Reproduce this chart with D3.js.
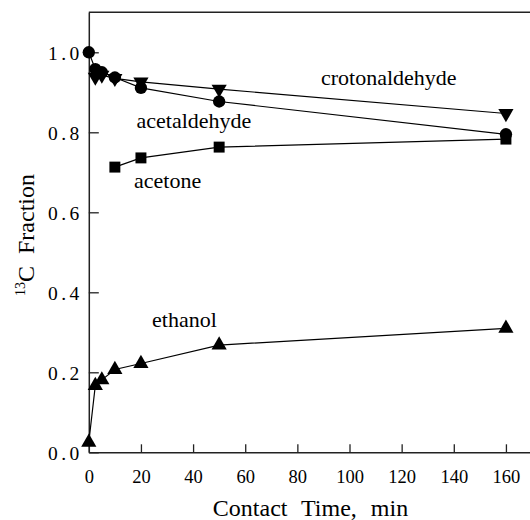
<!DOCTYPE html>
<html>
<head>
<meta charset="utf-8">
<script src="https://cdn.jsdelivr.net/npm/d3@7"></script>
<style>
  html, body { margin: 0; padding: 0; background: #fff; }
  svg { display: block; }
</style>
</head>
<body>
<svg id="chart" width="530" height="520"></svg>
<script>
// Contact time (min) and 13C fraction for each product
const ethanolTime = [0, 2.5, 5, 10, 20, 50, 160];
const ethanolFrac = [0.025, 0.167, 0.181, 0.207, 0.222, 0.268, 0.310];

const acetaldehydeTime = [0, 2.5, 5, 10, 20, 50, 160];
const acetaldehydeFrac = [1.0, 0.958, 0.950, 0.937, 0.911, 0.877, 0.795];

const crotonTime = [2.5, 5, 10, 20, 50, 160];
const crotonFrac = [0.938, 0.943, 0.935, 0.926, 0.908, 0.847];

const acetoneTime = [10, 20, 50, 160];
const acetoneFrac = [0.713, 0.736, 0.763, 0.783];

const xTicks = [0, 20, 40, 60, 80, 100, 120, 140, 160];
const yTicks = [0.0, 0.2, 0.4, 0.6, 0.8, 1.0];

const SERIF = "'Liberation Serif', 'Times New Roman', serif";

const svg = d3.select("#chart");

const x = d3.scaleLinear().domain([0, 170]).range([88.8, 532]);
const y = d3.scaleLinear().domain([0, 1.1]).range([452.3, 12.3]);

// frame: top edge and left/bottom axes
svg.append("line")
  .attr("x1", x(0)).attr("x2", x(170)).attr("y1", y(1.1)).attr("y2", y(1.1))
  .attr("stroke", "#222").attr("stroke-width", 1.5);

const xAxis = d3.axisBottom(x).tickValues(xTicks).tickSizeInner(-8).tickSizeOuter(0).tickPadding(18)
  .tickFormat(d3.format("d"));
const gx = svg.append("g").attr("transform", `translate(0,${y(0)})`).call(xAxis);

const yAxis = d3.axisLeft(y).tickValues(yTicks).tickSizeInner(-10).tickSizeOuter(0).tickPadding(6)
  .tickFormat(d3.format(".1f"));
const gy = svg.append("g").attr("transform", `translate(${x(0)},0)`).call(yAxis);

[gx, gy].forEach(g => {
  g.select(".domain").attr("stroke", "#222").attr("stroke-width", 1.5);
  g.selectAll(".tick line").attr("stroke", "#222").attr("stroke-width", 1.3);
  g.selectAll(".tick text")
    .style("font-family", SERIF).style("font-size", "18.5px").attr("fill", "#000");
});
gy.selectAll(".tick text").attr("dy", "0.35em")
  .style("font-size", "19.5px").style("letter-spacing", "3.5px");

// series lines and markers
const line = d3.line().x(d => x(d[0])).y(d => y(d[1]));
const zip = (a, b) => a.map((v, i) => [v, b[i]]);

const series = [
  { pts: zip(ethanolTime, ethanolFrac), sym: d3.symbolTriangle, size: 100, rot: 0 },
  { pts: zip(crotonTime, crotonFrac), sym: d3.symbolTriangle, size: 100, rot: 180 },
  { pts: zip(acetoneTime, acetoneFrac), sym: d3.symbolSquare, size: 120, rot: 0 },
  { pts: zip(acetaldehydeTime, acetaldehydeFrac), sym: d3.symbolCircle, size: 120, rot: 0 }
];

series.forEach(s => {
  svg.append("path").datum(s.pts).attr("d", line)
    .attr("fill", "none").attr("stroke", "#000").attr("stroke-width", 1.2);
});
series.forEach(s => {
  svg.append("g").selectAll("path").data(s.pts).join("path")
    .attr("d", d3.symbol().type(s.sym).size(s.size))
    .attr("transform", d => `translate(${x(d[0])},${y(d[1])}) rotate(${s.rot})`)
    .attr("fill", "#000");
});

// series labels
const labels = [
  { text: "crotonaldehyde", lx: 321, ly: 85 },
  { text: "acetaldehyde", lx: 136.5, ly: 128 },
  { text: "acetone", lx: 134, ly: 188 },
  { text: "ethanol", lx: 152, ly: 327 }
];
svg.append("g").selectAll("text").data(labels).join("text")
  .attr("x", d => d.lx).attr("y", d => d.ly)
  .style("font-family", SERIF).style("font-size", "22px").attr("fill", "#000")
  .text(d => d.text);

// axis titles
svg.append("text")
  .attr("x", 310.5).attr("y", 516)
  .attr("text-anchor", "middle")
  .style("font-family", SERIF).style("font-size", "24px").style("word-spacing", "8px")
  .attr("fill", "#000")
  .text("Contact Time, min");

const yt = svg.append("text")
  .attr("transform", "translate(33.5,235) rotate(-90)")
  .attr("text-anchor", "middle")
  .style("font-family", SERIF).style("font-size", "24px").style("word-spacing", "6px")
  .attr("fill", "#000");
yt.append("tspan").style("font-size", "14px").attr("dy", -9).text("13");
yt.append("tspan").attr("dy", 9).text("C Fraction");
</script>
</body>
</html>
